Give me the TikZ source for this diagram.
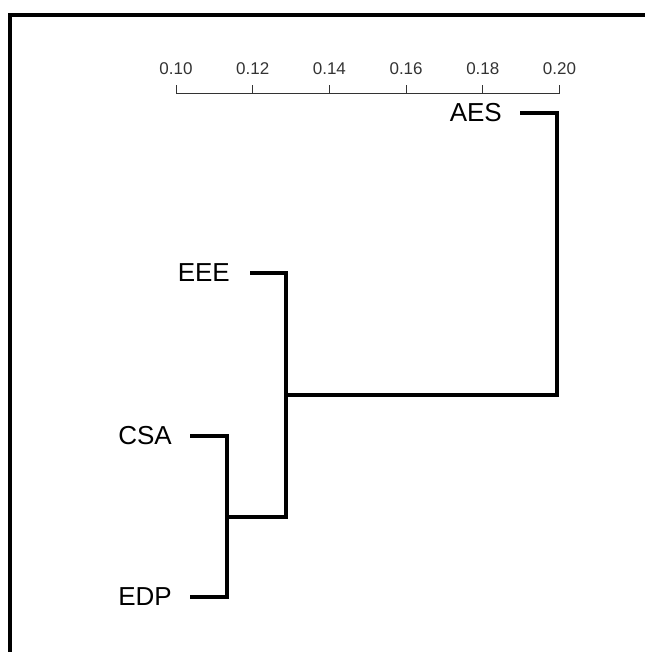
\documentclass[tikz,border=0pt]{standalone}
\usepackage{fontspec}
\setmainfont{Liberation Sans}
\definecolor{axisgray}{HTML}{333333}
\begin{document}
\begin{tikzpicture}[x=1pt,y=-1pt,
  dend/.style={line width=4pt, line join=miter, black},
  leaflabel/.style={anchor=east, inner sep=0pt, font=\fontsize{26}{30}\selectfont},
  ticklabel/.style={inner sep=0pt, text=axisgray, font=\fontsize{17}{20}\selectfont},
  axisline/.style={line width=0.9pt, axisgray},
  framestyle/.style={line width=4pt, black}]
\useasboundingbox (0,0) rectangle (644,652);
% frame
\coordinate (fBL) at (10,660);
\coordinate (fTL) at (10,15);
\coordinate (fTR) at (650,15);
\draw[framestyle] (fBL) -- (fTL) -- (fTR);
% axis
\coordinate (a0) at (176,93);
\coordinate (a1) at (560,93);
\draw[axisline] (a0) -- (a1);
\foreach \v [count=\i from 0] in {0.10,0.12,0.14,0.16,0.18,0.20} {
  \coordinate (tk\i) at ({176+76.7*\i},93);
  \draw[axisline] (tk\i) -- ++(0,-8);
  \node[ticklabel] (tl\i) at ({176+76.7*\i},69) {\v};
}
% leaves
\coordinate (aesL) at (520,113);
\coordinate (eeeL) at (250,273);
\coordinate (csaL) at (190,436);
\coordinate (edpL) at (190,597);
\node[leaflabel] (aes) at ([xshift=-18pt]aesL) {AES};
\node[leaflabel] (eee) at ([xshift=-20pt]eeeL) {EEE};
\node[leaflabel] (csa) at ([xshift=-18pt]csaL) {CSA};
\node[leaflabel] (edp) at ([xshift=-18pt]edpL) {EDP};
% merges
\coordinate (m1) at (227,516.5);
\coordinate (m2) at (286,394.75);
\coordinate (m3) at (557,254);
\draw[dend] (csaL) -| (m1) |- (edpL);
\draw[dend] (eeeL) -| (m2) |- (m1);
\draw[dend] (aesL) -| (m3) |- (m2);
\end{tikzpicture}
\end{document}
